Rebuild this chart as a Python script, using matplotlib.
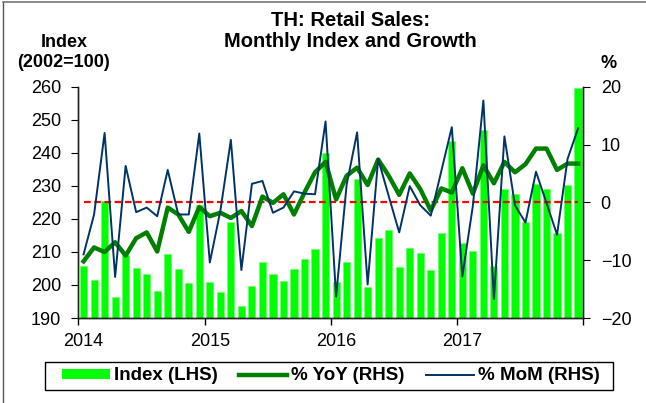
import numpy as np
import matplotlib
matplotlib.use("Agg")
import matplotlib.pyplot as plt
from matplotlib.patches import Patch, Rectangle
from matplotlib.lines import Line2D

plt.rcParams['font.family'] = ['Liberation Sans', 'DejaVu Sans']

# monthly data, Jan 2014 - Dec 2017
years = ['2014', '2015', '2016', '2017']
index_vals = [205.8, 201.4, 225.4, 196.5, 209.0, 205.1, 203.2, 198.3, 209.4, 204.9, 200.6, 224.3,
              200.9, 198.0, 219.0, 193.5, 199.8, 207.0, 203.2, 201.2, 204.8, 207.9, 210.8, 239.9,
              201.0, 207.0, 232.1, 199.3, 214.2, 216.6, 205.5, 211.2, 209.6, 204.6, 215.8, 243.6,
              212.6, 210.3, 246.9, 205.8, 229.0, 227.5, 219.0, 230.7, 228.9, 215.7, 230.4, 259.6]
yoy = [-10.2, -7.8, -8.6, -6.9, -9.2, -6.2, -5.2, -8.5, -0.9, -2.1, -5.1, -0.8,
       -2.4, -1.8, -2.7, -1.5, -4.1, 1.0, -0.1, 1.4, -2.1, 1.7, 5.2, 7.0,
       0.5, 4.6, 6.0, 3.0, 7.4, 4.6, 1.3, 5.0, 2.3, -1.4, 2.4, 1.7,
       5.9, 1.5, 6.4, 3.3, 7.0, 5.2, 6.6, 9.3, 9.3, 5.6, 6.7, 6.7]
mom = [-9.0, -2.1, 12.0, -12.9, 6.3, -1.7, -0.9, -2.4, 5.6, -2.1, -2.1, 11.9,
       -10.4, -1.5, 10.8, -11.7, 3.2, 3.7, -1.8, -0.9, 1.9, 1.5, 1.4, 14.0,
       -16.3, 3.0, 12.1, -14.2, 7.5, 1.1, -5.2, 2.8, -0.5, -2.3, 5.4, 13.0,
       -12.8, -0.6, 17.6, -16.7, 11.4, -0.5, -3.5, 5.3, -0.1, -5.6, 7.5, 12.8]

BAR_C = '#00FF00'
YOY_C = '#008000'
MOM_C = '#003366'

x = np.arange(len(index_vals))

fig = plt.figure(figsize=(6.46, 4.03), dpi=100)
ax = fig.add_axes([0.1212, 0.2109, 0.903 - 0.1212, 0.7849 - 0.2109])
ax2 = ax.twinx()

ax.bar(x, index_vals, width=0.68, color=BAR_C, edgecolor='#66ff66', linewidth=0.4)
ax.set_ylim(190, 260)
ax.set_yticks(np.arange(190, 261, 10))
ax.set_xlim(-0.5, len(x) - 0.5)

ax2.axhline(0, xmin=0.5 / 48, xmax=47.5 / 48, color='red', lw=1.6, ls=(0, (3, 1.6)))
ax2.plot(x, yoy, color=YOY_C, lw=3.2, solid_joinstyle='round')
ax2.plot(x, mom, color=MOM_C, lw=1.4)
ax2.set_ylim(-20, 20)
ax2.set_yticks([-20, -10, 0, 10, 20])

# year labels under Jan, tick marks at year boundaries
ax.set_xticks([0, 12, 24, 36])
ax.set_xticklabels(years)
ax.set_xticks([-0.5, 11.5, 23.5, 35.5, 47.5], minor=True)
ax.tick_params(axis='x', which='major', length=0, pad=11, labelsize=13)
ax.tick_params(axis='x', which='minor', length=5, direction='out', width=1)
ax.tick_params(axis='y', length=5, direction='out', pad=7.5, labelsize=13)
ax2.tick_params(axis='y', length=5, direction='out', pad=7.5, labelsize=13)

for a in (ax, ax2):
    a.spines['top'].set_visible(False)
    for s in ('left', 'right', 'bottom'):
        a.spines[s].set_linewidth(1)
        a.spines[s].set_color('#222222')

fig.text(0.543, 0.949, 'TH: Retail Sales:', ha='center', va='center', fontsize=14.5, fontweight='bold')
fig.text(0.543, 0.897, 'Monthly Index and Growth', ha='center', va='center', fontsize=14.5, fontweight='bold')
fig.text(64 / 646, 1 - 42.7 / 403, 'Index', ha='center', va='center', fontsize=13, fontweight='bold')
fig.text(64 / 646, 1 - 62.7 / 403, '(2002=100)', ha='center', va='center', fontsize=13, fontweight='bold')
fig.text(609 / 646, 1 - 64 / 403, '%', ha='center', va='center', fontsize=13, fontweight='bold')

handles = [Patch(facecolor=BAR_C, edgecolor='none'),
           Line2D([], [], color=YOY_C, lw=3.2),
           Line2D([], [], color=MOM_C, lw=1.4)]
leg = fig.legend(handles, ['Index (LHS)', '% YoY (RHS)', '% MoM (RHS)'], ncol=3,
                 loc='center', bbox_to_anchor=(331 / 646, 1 - 376 / 403),
                 prop={'weight': 'bold', 'size': 13.5}, frameon=False,
                 borderpad=0.2, handlelength=2.56, handleheight=0.5,
                 handletextpad=0.22, columnspacing=1.15)
# legend box drawn by hand (uneven side padding in the original)
fig.add_artist(Rectangle((45 / 646, 1 - 390 / 403), 568 / 646, 28 / 403,
                         transform=fig.transFigure, fill=False, edgecolor='black', lw=1))

# outer frame of the chart box
fig.add_artist(Line2D([3 / 646, 3 / 646], [0, 1 - 2 / 403], transform=fig.transFigure, color='#555555', lw=1))
fig.add_artist(Line2D([3 / 646, 1], [1 - 2 / 403, 1 - 2 / 403], transform=fig.transFigure, color='#777777', lw=1.2))

fig.savefig('out.png', dpi=100)
